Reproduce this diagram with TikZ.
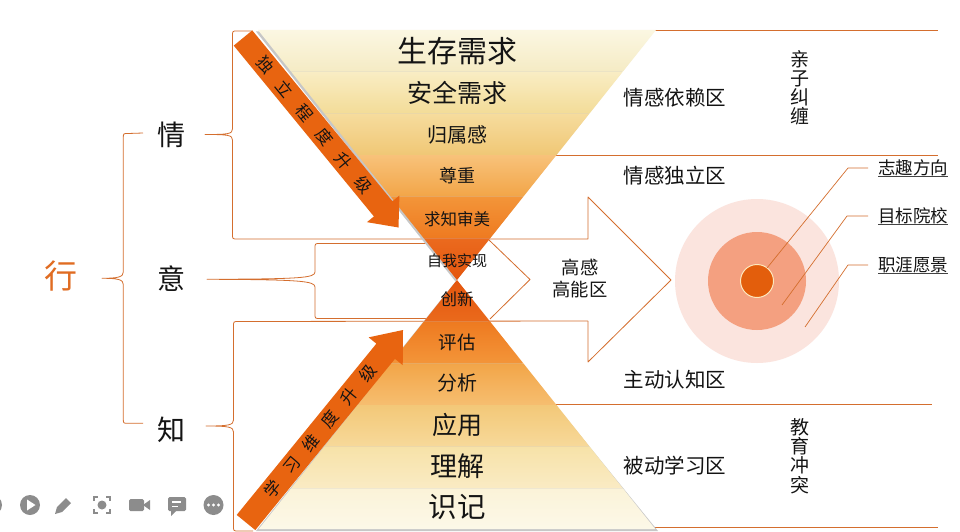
\documentclass[tikz,border=0pt]{standalone}
\usepackage{fontspec}
\setmainfont{Noto Sans CJK SC}
\usetikzlibrary{calc}
\definecolor{brc}{RGB}{212,110,46}
\definecolor{arrowfill}{RGB}{232,100,16}
\definecolor{xingc}{RGB}{224,108,34}
\definecolor{txt}{RGB}{20,20,20}
\definecolor{iconc}{RGB}{140,140,140}
\definecolor{ringA}{RGB}{251,228,222}
\definecolor{ringB}{RGB}{244,160,128}
\definecolor{ringC}{RGB}{227,94,12}
\definecolor{ringE}{RGB}{253,232,190}
\definecolor{tA1}{RGB}{251,247,226}\definecolor{tA2}{RGB}{245,235,196}
\definecolor{tB1}{RGB}{249,237,196}\definecolor{tB2}{RGB}{243,220,152}
\definecolor{tC1}{RGB}{246,220,158}\definecolor{tC2}{RGB}{240,199,117}
\definecolor{tD1}{RGB}{248,194,122}\definecolor{tD2}{RGB}{242,165,72}
\definecolor{tE1}{RGB}{243,149,57}\definecolor{tE2}{RGB}{238,122,32}
\definecolor{tF1}{RGB}{235,106,30}\definecolor{tF2}{RGB}{228,86,14}
\definecolor{bA1}{RGB}{228,86,14}\definecolor{bA2}{RGB}{234,106,28}
\definecolor{bB1}{RGB}{238,122,32}\definecolor{bB2}{RGB}{243,149,57}
\definecolor{bC1}{RGB}{242,165,72}\definecolor{bC2}{RGB}{246,190,112}
\definecolor{bD1}{RGB}{243,200,120}\definecolor{bD2}{RGB}{247,217,154}
\definecolor{bE1}{RGB}{247,226,168}\definecolor{bE2}{RGB}{250,235,196}
\definecolor{bF1}{RGB}{251,243,216}\definecolor{bF2}{RGB}{252,248,232}
\newcommand{\layerband}[6]{%
  \shade[top color=#5,bottom color=#6] (457-#3,#1) -- (457+#3,#1) -- (457+#4,#2) -- (457-#4,#2) -- cycle;}
\begin{document}
\begin{tikzpicture}[x=1pt,y=-1pt,
  brace/.style={draw=brc,line width=0.8pt,line join=round},
  zline/.style={draw=brc,line width=0.7pt},
  leader/.style={draw=brc,line width=0.7pt},
  uline/.style={draw=txt!80,line width=0.9pt},
  lay/.style={text=txt,inner sep=0pt},
  zone/.style={text=txt,inner sep=0pt,font=\fontsize{20.5}{20.5}\selectfont},
  vzone/.style={text=txt,inner sep=0pt,align=center,font=\fontsize{19}{19.2}\selectfont},
  side/.style={text=txt,inner sep=0pt,font=\fontsize{28}{28}\selectfont},
  goal/.style={text=txt,inner sep=0pt,anchor=west,font=\fontsize{17.5}{17.5}\selectfont},
  arrowtxt/.style={text=txt,inner sep=0pt,font=\fontsize{16.5}{16.5}\selectfont},
  icon/.style={fill=iconc}]
\useasboundingbox (0,0) rectangle (960,532);
\fill[white] (0,0) rectangle (960,532);

% zone lines on the right
\draw[zline] (500,30) -- (938,30);
\draw[zline] (457,155) -- (938,155);
\draw[zline] (457,404) -- (932,404);
\draw[zline] (500,527) -- (938,527);

% braces
\draw[brace] (143,133) -- (128,133.5) .. controls (123.3,133.5) .. (123.3,138) -- (123.3,272)
  .. controls (123.3,277) and (118,278.3) .. (102,278.3)
  .. controls (118,278.3) and (123.3,279.5) .. (123.3,284.5) -- (123.3,418.5)
  .. controls (123.3,423.3) .. (128,423.3) -- (143,423.3);
\draw[brace] (252,31) -- (237,31) .. controls (232.5,31) .. (232.5,36) -- (232.5,129)
  .. controls (232.5,134) and (228,134.5) .. (205,134.5)
  .. controls (228,134.5) and (232.5,135) .. (232.5,140) -- (232.5,234)
  .. controls (232.5,239) .. (237.5,239) -- (588,239) -- (588,197) -- (671,280)
  -- (588,362) -- (588,321);
\draw[brace] (588,321) -- (238.5,321.5) .. controls (233.5,321.5) .. (233.5,326.5) -- (233.5,420)
  .. controls (233.5,425) and (229,426) .. (206,426)
  .. controls (229,426) and (233.5,427) .. (233.5,432) -- (233.5,526)
  .. controls (233.5,531) .. (238.5,531) -- (253,531);
\draw[brace] (428,243.5) -- (320,243.5) .. controls (315,243.5) .. (315,248.5) -- (315,272)
  .. controls (315,278) and (300,279) .. (207,279.3)
  .. controls (300,279.6) and (315,281) .. (315,287) -- (315,313.5)
  .. controls (315,318.5) .. (320,318.5) -- (428,318.5);
\draw[brace] (489,240) -- (530,279.5) -- (490,319);

% target circles
\node[circle,fill=ringA,minimum size=164,inner sep=0pt] (outer) at (757,281) {};
\node[circle,fill=ringB,minimum size=98,inner sep=0pt] (middle) at (757,281) {};
\node[circle,fill=ringC,draw=ringE,line width=1pt,minimum size=33,inner sep=0pt] (inner) at (757,281) {};

% goal labels and leaders
\node[goal] (zq) at (878,168) {志趣方向};
\node[goal] (mb) at (878,216) {目标院校};
\node[goal] (zy) at (878,265) {职涯愿景};
\draw[uline] (zq.south west) -- (zq.south east);
\draw[uline] (mb.south west) -- (mb.south east);
\draw[uline] (zy.south west) -- (zy.south east);
\coordinate (zqe) at (767,268);
\coordinate (mbe) at (782,305);
\coordinate (zye) at (805,327);
\draw[leader] ($(zq.west)+(-10,0)$) -- ++(-20,0) -- (zqe);
\draw[leader] ($(mb.west)+(-10,0)$) -- ++(-21,0) -- (mbe);
\draw[leader] ($(zy.west)+(-10,0)$) -- ++(-20,0) -- (zye);

% shadows of the hourglass
\fill[black!22] (256,31.5) -- (654,31.5) -- (455.5,281.5) -- cycle;
\fill[black!22] (455.5,281.5) -- (256,531) -- (658,531) -- cycle;

% hourglass layers
\layerband{30}{71.67}{199}{165.83}{tA1}{tA2}
\layerband{71.67}{113.33}{165.83}{132.67}{tB1}{tB2}
\layerband{113.33}{155}{132.67}{99.5}{tC1}{tC2}
\layerband{155}{196.67}{99.5}{66.33}{tD1}{tD2}
\layerband{196.67}{238.33}{66.33}{33.17}{tE1}{tE2}
\layerband{238.33}{280}{33.17}{0}{tF1}{tF2}
\layerband{280}{321.67}{0}{33.17}{bA1}{bA2}
\layerband{321.67}{363.33}{33.17}{66.33}{bB1}{bB2}
\layerband{363.33}{405}{66.33}{99.5}{bC1}{bC2}
\layerband{405}{446.67}{99.5}{132.67}{bD1}{bD2}
\layerband{446.67}{488.33}{132.67}{165.83}{bE1}{bE2}
\layerband{488.33}{529}{165.83}{198.2}{bF1}{bF2}

% layer texts
\node[lay,font=\fontsize{30}{30}\selectfont] (l1) at (457,51) {生存需求};
\node[lay,font=\fontsize{25}{25}\selectfont] (l2) at (457,93) {安全需求};
\node[lay,font=\fontsize{20}{20}\selectfont] (l3) at (457,135) {归属感};
\node[lay,font=\fontsize{18}{18}\selectfont] (l4) at (457,176) {尊重};
\node[lay,font=\fontsize{16.5}{16.5}\selectfont] (l5) at (457,219) {求知审美};
\node[lay,font=\fontsize{15}{15}\selectfont] (l6) at (457,261) {自我实现};
\node[lay,font=\fontsize{16.5}{16.5}\selectfont] (m1) at (457,299) {创新};
\node[lay,font=\fontsize{18.5}{18.5}\selectfont] (m2) at (457,342) {评估};
\node[lay,font=\fontsize{20}{20}\selectfont] (m3) at (457,383) {分析};
\node[lay,font=\fontsize{25}{25}\selectfont] (m4) at (457,425) {应用};
\node[lay,font=\fontsize{27}{27}\selectfont] (m5) at (457,466) {理解};
\node[lay,font=\fontsize{28.5}{28.5}\selectfont] (m6) at (457,507) {识记};

% arrow 1: 独立程度升级
\coordinate (a1s) at (243,38);
\coordinate (a1t) at (398.5,227.5);
\coordinate (a1h) at ($(a1s)!221pt!(a1t)$);
\fill[arrowfill] ($(a1s)!12pt!90:(a1t)$) -- ($(a1h)!12pt!-90:(a1s)$) -- ($(a1h)!21pt!-90:(a1s)$)
  -- (a1t) -- ($(a1h)!21pt!90:(a1s)$) -- ($(a1h)!12pt!90:(a1s)$) -- ($(a1s)!12pt!-90:(a1t)$) -- cycle;
\foreach \d/\c in {35/独,66/立,97/程,128/度,159/升,190/级}
  \node[arrowtxt,rotate=-50.6] (ta\d) at ($(a1s)!\d pt!(a1t)$) {\c};

% arrow 2: 学习维度升级
\coordinate (a2s) at (246,522.5);
\coordinate (a2t) at (403,330);
\coordinate (a2h) at ($(a2s)!221pt!(a2t)$);
\fill[arrowfill] ($(a2s)!12pt!90:(a2t)$) -- ($(a2h)!12pt!-90:(a2s)$) -- ($(a2h)!22pt!-90:(a2s)$)
  -- (a2t) -- ($(a2h)!22pt!90:(a2s)$) -- ($(a2h)!12pt!90:(a2s)$) -- ($(a2s)!12pt!-90:(a2t)$) -- cycle;
\foreach \d/\c in {43/学,73/习,103/维,133/度,163/升,193/级}
  \node[arrowtxt,rotate=50.8] (tb\d) at ($(a2s)!\d pt!(a2t)$) {\c};

% left labels
\node[inner sep=0pt,text=xingc,font=\fontsize{33}{33}\selectfont] (xing) at (61,276) {行};
\node[side] (qing) at (171,135) {情};
\node[side] (yi) at (171,279) {意};
\node[side] (zhi) at (171,430) {知};

% zone texts
\node[zone] (z1) at (675,98) {情感依赖区};
\node[zone] (z2) at (675,176) {情感独立区};
\node[zone] (z3) at (675,380) {主动认知区};
\node[zone] (z4) at (675,466) {被动学习区};
\node[inner sep=0pt,text=txt,align=center,font=\fontsize{18.3}{22}\selectfont] (gg) at (580,279) {高感\\高能区};
\node[vzone] (v1) at (800,88) {亲\\子\\纠\\缠};
\node[vzone] (v2) at (800,456) {教\\育\\冲\\突};

% toolbar icons
\fill[icon] (-8,505) circle (10);
\fill[icon] (30,505) circle (10);
\fill[white] (27,499.5) -- (27,510.5) -- (35.5,505) -- cycle;
\fill[icon] (55,514) -- (57,507) -- (66,498) -- (71,503) -- (62,512) -- cycle;
\draw[iconc,line width=2pt] (94,501) -- (94,497) -- (98,497) (106,497) -- (110,497) -- (110,501)
  (110,509) -- (110,513) -- (106,513) (98,513) -- (94,513) -- (94,509);
\fill[icon] (102,505) circle (4.5);
\fill[icon,rounded corners=1.5pt] (129,499) rectangle (144,511);
\fill[icon] (143,505) -- (150,500) -- (150,510) -- cycle;
\fill[icon,rounded corners=1.5pt] (168,497) rectangle (186,511);
\fill[icon] (171,510) -- (171,516) -- (177,510) -- cycle;
\draw[white,line width=1.4pt] (172,502) -- (181,502) (172,506.5) -- (178,506.5);
\fill[icon] (213.5,505) circle (10);
\fill[white] (208.5,505) circle (1.6) (213.5,505) circle (1.6) (218.5,505) circle (1.6);
\end{tikzpicture}
\end{document}
